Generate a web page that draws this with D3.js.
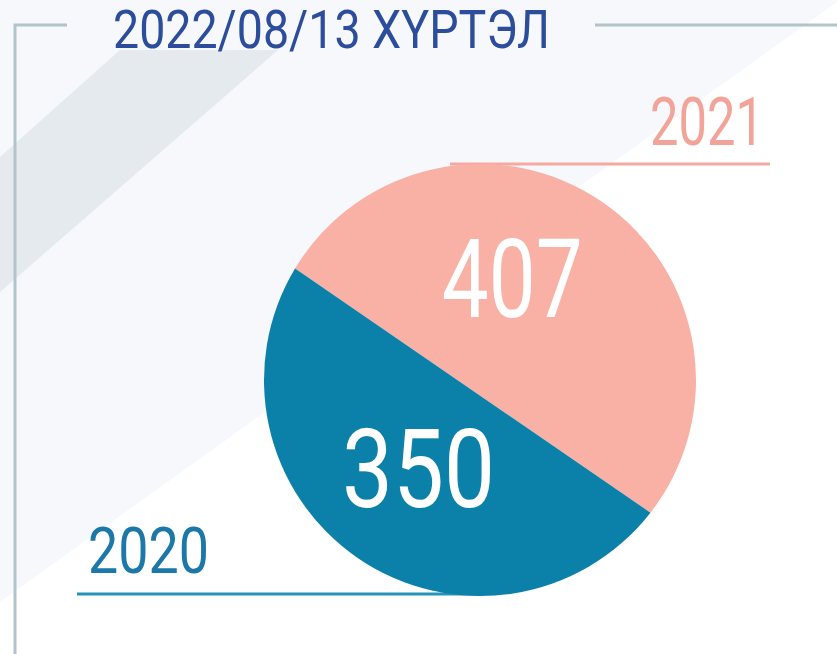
<!DOCTYPE html>
<html>
<head>
<meta charset="utf-8">
<script src="https://cdn.jsdelivr.net/npm/d3@7"></script>
<style>
  html, body { margin: 0; padding: 0; background: #ffffff; }
  svg { display: block; font-family: Roboto, "Noto Sans", sans-serif; }
</style>
</head>
<body>
<svg id="chart"></svg>
<script>
// data
const years = ["2021", "2020"]
const counts = [407, 350]
const colors = ["#f8b1a4", "#0b80a9"]
const labelColors = ["#f2a49b", "#1b78a7"]
const title = "2022/08/13 ХҮРТЭЛ"

const w = 837, h = 654
const cx = 480, cy = 380, r = 216
const tilt = 34.5 * Math.PI / 180   // direction of the 2021 side, clockwise from 12 o'clock

const svg = d3.select("#chart").attr("width", w).attr("height", h)

// background
svg.append("rect").attr("width", w).attr("height", h).attr("fill", "#ffffff")
svg.append("path")
    .attr("d", "M0,0 L837,0 L837,2 L0,602 Z")
    .attr("fill", "#f6f8fb")
svg.append("path")
    .attr("d", "M120,50 L278,50 L0,292 L0,157 Z")
    .attr("fill", "#e4eaee")

// frame
const frame = svg.append("g")
    .attr("stroke", "#b3c3cb")
    .attr("stroke-width", 3)
    .attr("fill", "none")
frame.append("path").attr("d", "M67,25 L15,25 L15,654")
frame.append("path").attr("d", "M595,25 L837,25")

// condensed text helper (no condensed font installed)
function label(g, txt, x, y, size, width, color, anchor) {
    return g.append("text")
        .attr("x", x)
        .attr("y", y)
        .attr("font-size", size)
        .attr("text-anchor", anchor || "start")
        .attr("textLength", width)
        .attr("lengthAdjust", "spacingAndGlyphs")
        .attr("fill", color)
        .text(txt)
}

label(svg, title, 113, 48, 53, 437, "#2c4c9c")

// year underlines and labels
svg.append("line")
    .attr("x1", 450).attr("x2", 770)
    .attr("y1", 164).attr("y2", 164)
    .attr("stroke", "#f5a9a0").attr("stroke-width", 3)
svg.append("line")
    .attr("x1", 77).attr("x2", 478)
    .attr("y1", 594).attr("y2", 594)
    .attr("stroke", "#2693b7").attr("stroke-width", 3)

label(svg, years[0], 650, 145, 66, 114, labelColors[0])
label(svg, years[1], 88, 573, 65, 121, labelColors[1])

// circle cut by one straight chord, the two pieces sized by area
const total = d3.sum(counts)
const share = counts[0] / total
// solve (phi - sin phi) / (2 pi) = share for the arc angle of the 2021 piece
let lo = 0, hi = 2 * Math.PI
for (let k = 0; k < 60; k++) {
    const mid = (lo + hi) / 2
    if ((mid - Math.sin(mid)) / (2 * Math.PI) < share) lo = mid; else hi = mid
}
const phi = (lo + hi) / 2
const cuts = [
    [tilt - phi / 2, tilt + phi / 2],
    [tilt + phi / 2, tilt - phi / 2 + 2 * Math.PI]
]

function segment(a) {
    const p = d3.path()
    p.moveTo(r * Math.sin(a[0]), -r * Math.cos(a[0]))
    p.arc(0, 0, r, a[0] - Math.PI / 2, a[1] - Math.PI / 2)
    p.closePath()
    return p.toString()
}

const g = svg.append("g").attr("transform", `translate(${cx},${cy})`)
g.selectAll("path")
    .data(cuts)
    .join("path")
    .attr("d", segment)
    .attr("fill", (d, i) => colors[i])

// value labels along each piece's bisector, with a slide along the chord
const along = [102, 107]
const slide = [-31, 1]
const widths = [141, 153]
cuts.forEach((a, i) => {
    const m = (a[0] + a[1]) / 2
    const ux = Math.sin(m), uy = -Math.cos(m)
    const x = ux * along[i] + Math.cos(m) * slide[i]
    const y = uy * along[i] + Math.sin(m) * slide[i]
    label(g, counts[i], x, y + 39, 110, widths[i], "#ffffff", "middle")
})
</script>
</body>
</html>
